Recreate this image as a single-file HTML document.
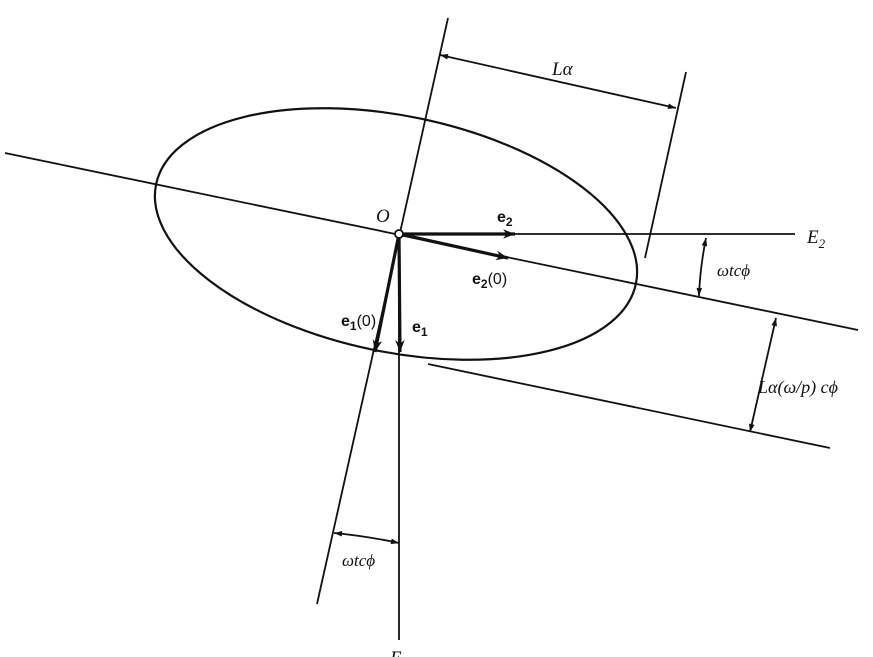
<!DOCTYPE html>
<html><head><style>
body{margin:0;background:#fff}
svg{display:block}
text{font-family:"Liberation Serif",serif;fill:#111}
.i{font-style:italic}
.b{font-weight:bold;font-family:"Liberation Sans",sans-serif}
</style></head><body>
<svg width="873" height="657" viewBox="0 0 873 657" xmlns="http://www.w3.org/2000/svg">
<defs>
<marker id="a" viewBox="0 0 10 10" refX="10" refY="5" markerWidth="11" markerHeight="8" orient="auto-start-reverse" markerUnits="userSpaceOnUse"><path d="M0,1.5 L10,5 L0,8.5z" fill="#111"/></marker>
<marker id="t" viewBox="0 0 10 10" refX="10" refY="5" markerWidth="18" markerHeight="12" orient="auto" markerUnits="userSpaceOnUse"><path d="M0,1 L10,5 L0,9 L3,5z" fill="#111"/></marker>
</defs>
<g stroke="#111" fill="none" stroke-width="1.8">
<ellipse cx="396" cy="234" rx="245" ry="118" transform="rotate(11.7 396 234)" stroke-width="2.2"/>
<line x1="5" y1="153" x2="858" y2="330"/>
<line x1="428" y1="364" x2="830" y2="448"/>
<line x1="399" y1="234" x2="795" y2="234"/>
<line x1="399" y1="234" x2="399" y2="640"/>
<line x1="448" y1="18" x2="317" y2="604"/>
<line x1="686" y1="72" x2="645" y2="258"/>
<line x1="440" y1="55" x2="676" y2="108" marker-start="url(#a)" marker-end="url(#a)"/>
<path d="M706,238 Q700,268 699,296" marker-start="url(#a)" marker-end="url(#a)"/>
<line x1="776" y1="318" x2="750" y2="432" marker-start="url(#a)" marker-end="url(#a)"/>
<path d="M334,533 Q366,536 399,543" marker-start="url(#a)" marker-end="url(#a)"/>
<g stroke-width="3.2">
<line x1="399" y1="234" x2="515" y2="234" marker-end="url(#t)"/>
<line x1="399" y1="234" x2="508" y2="258" marker-end="url(#t)"/>
<line x1="399" y1="234" x2="400" y2="352" marker-end="url(#t)"/>
<line x1="399" y1="234" x2="375" y2="352" marker-end="url(#t)"/>
</g>
</g>
<circle cx="399" cy="234" r="4" fill="#fff" stroke="#111" stroke-width="1.8"/>
<text x="376" y="222" class="i" font-size="19">O</text>
<text x="497" y="222" class="b" font-size="16">e<tspan font-size="12" dy="4">2</tspan></text>
<text x="472" y="284" class="b" font-size="16">e<tspan font-size="12" dy="4">2</tspan><tspan dy="-4" font-weight="normal" font-family="Liberation Sans">(0)</tspan></text>
<text x="341" y="326" class="b" font-size="16">e<tspan font-size="12" dy="4">1</tspan><tspan dy="-4" font-weight="normal" font-family="Liberation Sans">(0)</tspan></text>
<text x="412" y="332" class="b" font-size="16">e<tspan font-size="12" dy="4">1</tspan></text>
<text x="552" y="75" class="i" font-size="19">Lα</text>
<text x="807" y="243" class="i" font-size="19">E<tspan font-size="13" dy="5">2</tspan></text>
<text x="717" y="276" class="i" font-size="17">ωtcϕ</text>
<text x="758" y="393" class="i" font-size="18">Lα(ω/p) cϕ</text>
<text x="342" y="566" class="i" font-size="17">ωtcϕ</text>
<text x="390" y="664" class="i" font-size="19">E</text>
</svg>
</body></html>
